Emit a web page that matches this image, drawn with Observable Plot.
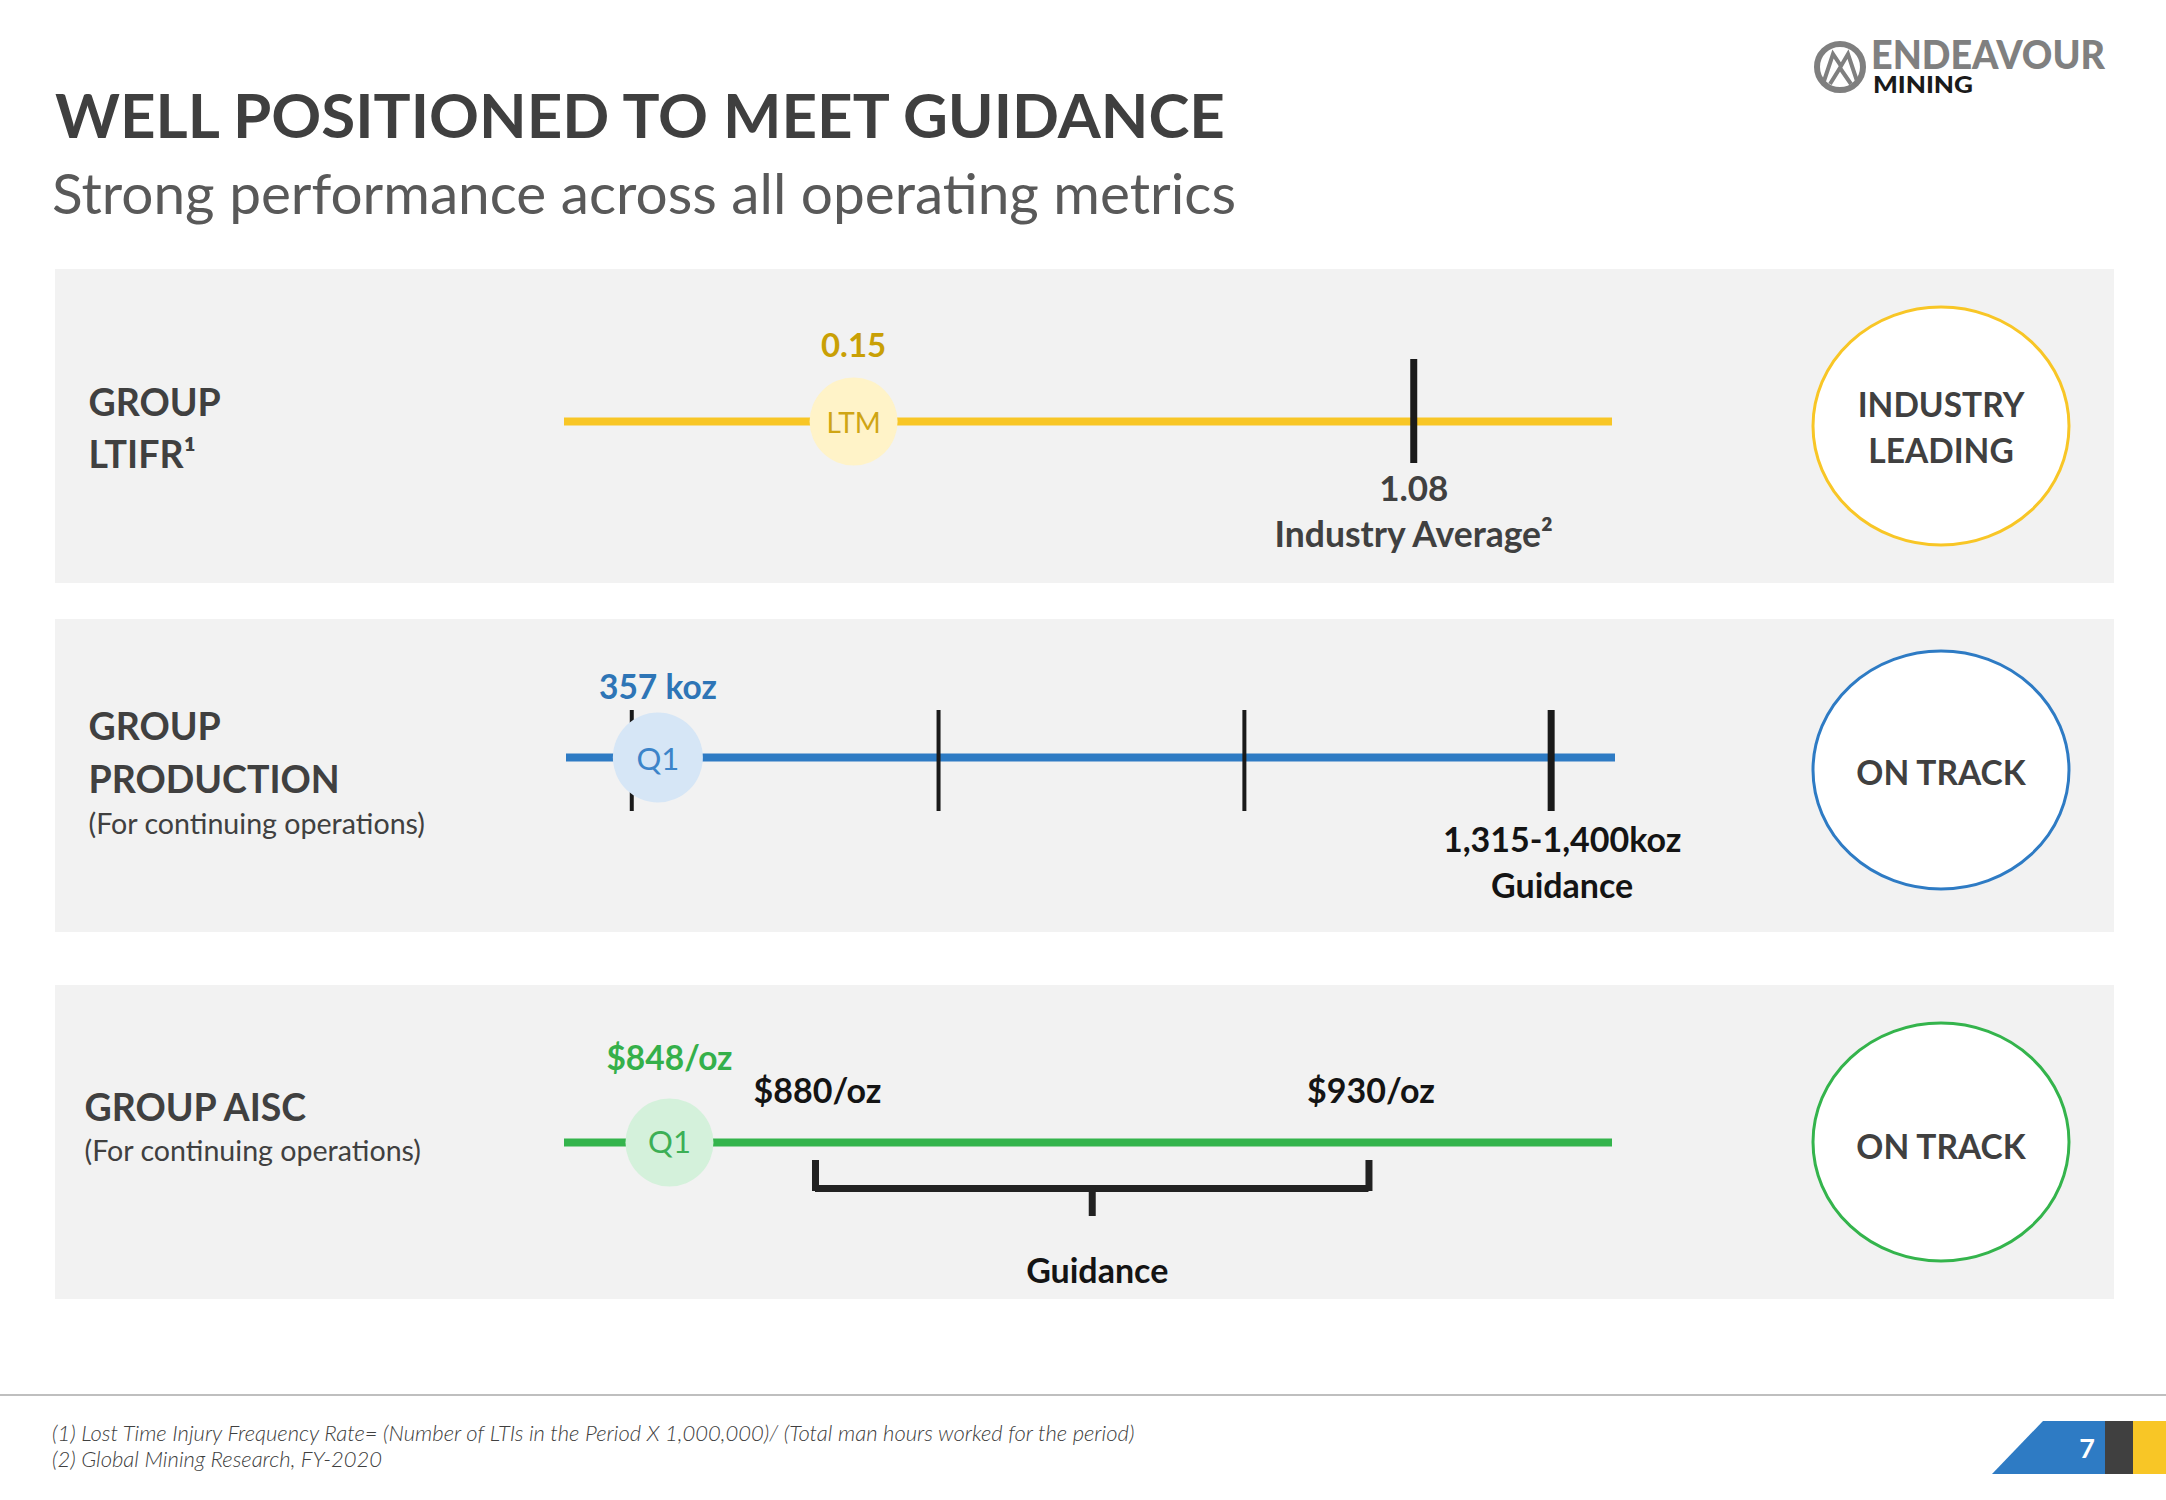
<!DOCTYPE html>
<html><head><meta charset="utf-8">
<script src="https://cdn.jsdelivr.net/npm/d3@7"></script>
<script src="https://cdn.jsdelivr.net/npm/@observablehq/plot@0.6"></script>
<style>
html,body{margin:0;padding:0;background:#fff;}
body{width:2166px;height:1500px;position:relative;overflow:hidden;font-family:Lato,"Open Sans",sans-serif;}
.panel{position:absolute;left:55px;width:2059px;background:#f2f2f2;}
.plot{position:absolute;left:55px;}
#overlay{position:absolute;left:0;top:0;pointer-events:none;}
</style></head><body>
<script>
// ---------------- data ----------------
const titleText = "WELL POSITIONED TO MEET GUIDANCE";
const subtitleText = "Strong performance across all operating metrics";
const footnotes = [
  "(1) Lost Time Injury Frequency Rate= (Number of LTIs in the Period X 1,000,000)/ (Total man hours worked for the period)",
  "(2) Global Mining Research, FY-2020"
];
const pageNumber = "7";
const logoWords = ["ENDEAVOUR", "MINING"];

const panelLabels = [["GROUP", "LTIFR¹"], ["GROUP", "PRODUCTION"], ["GROUP AISC"]];
const panelNotes = [null, "(For continuing operations)", "(For continuing operations)"];
const statusText = [["INDUSTRY", "LEADING"], ["ON TRACK"], ["ON TRACK"]];

// LTIFR
const ltifrActual = [{period: "LTM", value: 0.15, label: "0.15"}];
const ltifrBenchmark = [{value: 1.08, label: "1.08", note: "Industry Average²"}];
const ltifrAxis = [-0.33, 1.41];

// Production (koz)
const productionActual = [{period: "Q1", value: 357, label: "357 koz"}];
const productionMilestones = [329, 658, 986];
const productionGuidance = [{value: 1315, label: "1,315-1,400koz", note: "Guidance"}];
const productionAxis = [259, 1384];

// AISC ($/oz)
const aiscActual = [{period: "Q1", value: 848, label: "$848/oz"}];
const aiscGuidance = [{value: 880, label: "$880/oz"}, {value: 930, label: "$930/oz"}];
const aiscGuidanceNote = "Guidance";
const aiscAxis = [825, 880, 952];

// ---------------- layout / style ----------------
const FONT = "Lato, 'Open Sans', sans-serif";
const W = 2059;
const panelTops = [269, 619, 985];
const panelHeights = [314, 313, 314];
const LINE_RANGE = [509, 1557];
const DARK = "#404040", INK = "#141414";
const YELLOW = "#F8C626", YELLOW_TEXT = "#C9A005", YELLOW_FILL = "#FFF3C8", YELLOW_LBL = "#CFA514";
const BLUE = "#2E7BC4", BLUE_TEXT = "#2E75B6", BLUE_FILL = "#D6E6F6", BLUE_LBL = "#3C84C9";
const GREEN = "#34B44C", GREEN_TEXT = "#35B04A", GREEN_FILL = "#D4F1DB", GREEN_LBL = "#3CAF55";

const zero = () => 0;

function leftLabels(lines, note, x, dys, noteDy) {
  const marks = lines.map((t, i) => Plot.text([t], {text: d => d, frameAnchor: "left", textAnchor: "start", lineAnchor: "bottom",
    dx: x, dy: dys[i], fontSize: 37.5, fontWeight: 700, fill: DARK}));
  if (note) marks.push(Plot.text([note], {text: d => d, frameAnchor: "left", textAnchor: "start", lineAnchor: "bottom",
    dx: x, dy: noteDy, fontSize: 28.6, fill: DARK}));
  return marks;
}

function makePlot(h, mb, x, marks) {
  return Plot.plot({
    width: W, height: h, marginTop: 0, marginLeft: 0, marginRight: 0, marginBottom: mb,
    x: {...x, axis: null}, y: {domain: [-1, 1], axis: null},
    style: {fontFamily: FONT, background: "transparent", overflow: "visible"},
    marks
  });
}

// panel 1: LTIFR (center 152)
const p1 = makePlot(314, 10, {domain: ltifrAxis, range: LINE_RANGE}, [
  Plot.ruleY([ltifrAxis], {y: zero, x1: d => d[0], x2: d => d[1], stroke: YELLOW, strokeWidth: 8}),
  Plot.ruleX(ltifrBenchmark, {x: "value", stroke: "#1a1a1a", strokeWidth: 7, insetTop: 90, insetBottom: 110}),
  Plot.dot(ltifrActual, {x: "value", y: zero, r: 44, fill: YELLOW_FILL}),
  Plot.text(ltifrActual, {x: "value", y: zero, text: "period", fill: YELLOW_LBL, fontSize: 28, lineAnchor: "bottom", dy: 11}),
  Plot.text(ltifrActual, {x: "value", y: zero, text: "label", fill: YELLOW_TEXT, fontSize: 33, fontWeight: 700, lineAnchor: "bottom", dy: -65}),
  Plot.text(ltifrBenchmark, {x: "value", y: zero, text: "label", fill: DARK, fontSize: 35, fontWeight: 700, lineAnchor: "bottom", dy: 79}),
  Plot.text(ltifrBenchmark, {x: "value", y: zero, text: "note", fill: DARK, fontSize: 35.5, fontWeight: 700, lineAnchor: "bottom", dy: 125}),
  ...leftLabels(panelLabels[0], panelNotes[0], 33, [-6, 46])
]);

// panel 2: Production (center 138)
const p2 = makePlot(313, 37, {domain: productionAxis, range: [511, 1560]}, [
  Plot.ruleY([productionAxis], {y: zero, x1: d => d[0], x2: d => d[1], stroke: BLUE, strokeWidth: 8}),
  Plot.ruleX(productionMilestones, {x: d => d, stroke: "#1a1a1a", strokeWidth: 4, insetTop: 91, insetBottom: 84}),
  Plot.ruleX(productionGuidance, {x: "value", stroke: "#1a1a1a", strokeWidth: 7, insetTop: 91, insetBottom: 84}),
  Plot.dot(productionActual, {x: "value", y: zero, r: 45, fill: BLUE_FILL}),
  Plot.text(productionActual, {x: "value", y: zero, text: "period", fill: BLUE_LBL, fontSize: 31, lineAnchor: "bottom", dy: 12}),
  Plot.text(productionActual, {x: "value", y: zero, text: "label", fill: BLUE_TEXT, fontSize: 33.5, fontWeight: 700, lineAnchor: "bottom", dy: -59}),
  Plot.text(productionGuidance, {x: "value", y: zero, text: "label", fill: INK, fontSize: 34, fontWeight: 700, lineAnchor: "bottom", dy: 94, dx: 11}),
  Plot.text(productionGuidance, {x: "value", y: zero, text: "note", fill: INK, fontSize: 34, fontWeight: 700, lineAnchor: "bottom", dy: 140, dx: 11}),
  ...leftLabels(panelLabels[1], panelNotes[1], 33, [-18, 35], 76)
]);

// panel 3: AISC (center 157) — schematic axis: piecewise-linear transform of $/oz
const aiscT = d3.scaleLinear().domain(aiscAxis).range([0, 0.2395, 1]);
const aiscMid = [(aiscGuidance[0].value + aiscGuidance[1].value) / 2];
const p3 = makePlot(314, 0, {domain: [0, 1], range: LINE_RANGE, transform: aiscT}, [
  Plot.ruleY([[aiscAxis[0], aiscAxis[2]]], {y: zero, x1: d => d[0], x2: d => d[1], stroke: GREEN, strokeWidth: 8}),
  Plot.ruleX(aiscGuidance, {x: "value", stroke: "#222", strokeWidth: 7, insetTop: 175, insetBottom: 108}),
  Plot.ruleY([aiscGuidance], {y: zero, x1: d => d[0].value, x2: d => d[1].value, stroke: "#222", strokeWidth: 7, dy: 46}),
  Plot.ruleX(aiscMid, {x: d => d, stroke: "#222", strokeWidth: 7, insetTop: 203, insetBottom: 83}),
  Plot.dot(aiscActual, {x: "value", y: zero, r: 44, fill: GREEN_FILL}),
  Plot.text(aiscActual, {x: "value", y: zero, text: "period", fill: GREEN_LBL, fontSize: 31, lineAnchor: "bottom", dy: 10}),
  Plot.text(aiscActual, {x: "value", y: zero, text: "label", fill: GREEN_TEXT, fontSize: 33.5, fontWeight: 700, lineAnchor: "bottom", dy: -73}),
  Plot.text(aiscGuidance, {x: "value", y: zero, text: "label", fill: INK, fontSize: 34, fontWeight: 700, lineAnchor: "bottom", dy: -40, dx: 2}),
  Plot.text(aiscMid, {x: d => d, y: zero, text: () => aiscGuidanceNote, fill: INK, fontSize: 34, fontWeight: 700, lineAnchor: "bottom", dy: 140, dx: 5}),
  ...leftLabels(panelLabels[2], panelNotes[2], 29, [-22], 18)
]);

[p1, p2, p3].forEach((p, i) => {
  const bg = document.createElement("div");
  bg.className = "panel";
  bg.style.top = panelTops[i] + "px";
  bg.style.height = panelHeights[i] + "px";
  document.body.appendChild(bg);
  const holder = document.createElement("div");
  holder.className = "plot";
  holder.style.top = panelTops[i] + "px";
  holder.appendChild(p);
  document.body.appendChild(holder);
});

// ---------------- overlay: title, logo, status circles, footer ----------------
const NS = "http://www.w3.org/2000/svg";
const ov = document.createElementNS(NS, "svg");
ov.setAttribute("id", "overlay");
ov.setAttribute("width", 2166); ov.setAttribute("height", 1500);
document.body.appendChild(ov);
function el(tag, attrs, text, parent) {
  const e = document.createElementNS(NS, tag);
  for (const k in attrs) e.setAttribute(k, attrs[k]);
  if (text != null) e.textContent = text;
  (parent || ov).appendChild(e);
  return e;
}
function fit(t, target) {
  const len = t.getComputedTextLength();
  const fs = parseFloat(t.getAttribute("font-size"));
  if (len > 0) t.setAttribute("font-size", (fs * target / len).toFixed(2));
}

const tTitle = el("text", {x: 55, y: 138, "font-family": FONT, "font-weight": 700, "font-size": 66, fill: "#3f3f3f"}, titleText);
fit(tTitle, 1170);
const tSub = el("text", {x: 52, y: 214, "font-family": FONT, "font-size": 58, fill: "#595959"}, subtitleText);
fit(tSub, 1184);

// logo
el("circle", {cx: 1840, cy: 67, r: 23, fill: "none", stroke: "#7f7f7f", "stroke-width": 6});
el("path", {d: "M1823,84 L1833,54 L1841,66 L1848,54 L1858,84", fill: "none", stroke: "#7f7f7f", "stroke-width": 4, "stroke-linejoin": "miter"});
el("path", {d: "M1830,84 L1840,68 L1851,84", fill: "none", stroke: "#7f7f7f", "stroke-width": 4});
const logoText = el("text", {"font-family": FONT, "font-weight": 900});
el("tspan", {x: 1871, y: 69, "font-size": 39, fill: "#808080", textLength: 234, lengthAdjust: "spacingAndGlyphs"}, logoWords[0], logoText);
el("tspan", {x: 1873, y: 93, "font-size": 23, fill: "#1a1a1a", textLength: 100, lengthAdjust: "spacingAndGlyphs"}, logoWords[1], logoText);

// status circles
const statusColors = [YELLOW, BLUE, GREEN];
const statusCenters = [426, 770, 1142];
const statusBaselines = [[417, 463], [785], [1159]];
statusText.forEach((lines, i) => {
  el("ellipse", {cx: 1941, cy: statusCenters[i], rx: 128, ry: 119, fill: "#fff", stroke: statusColors[i], "stroke-width": 3});
  lines.forEach((s, j) => el("text", {x: 1941, y: statusBaselines[i][j], "text-anchor": "middle", "font-family": FONT, "font-weight": 700, "font-size": 33.5, fill: DARK}, s));
});

// footer
el("line", {x1: 0, x2: 2166, y1: 1395, y2: 1395, stroke: "#bfbfbf", "stroke-width": 2});
const f1 = el("text", {x: 52, y: 1441, "font-family": FONT, "font-style": "italic", "font-weight": 300, "font-size": 19, fill: DARK}, footnotes[0]);
fit(f1, 1083);
el("text", {x: 52, y: 1467, "font-family": FONT, "font-style": "italic", "font-weight": 300, "font-size": f1.getAttribute("font-size"), fill: DARK}, footnotes[1]);

// page badge
el("polygon", {points: "2043,1421 2105,1421 2105,1474 1992,1474", fill: "#2E7BC4"});
el("rect", {x: 2105, y: 1421, width: 28, height: 53, fill: "#404040"});
el("rect", {x: 2133, y: 1421, width: 33, height: 53, fill: "#F8C626"});
el("text", {x: 2087, y: 1458, "text-anchor": "middle", "font-family": FONT, "font-weight": 700, "font-size": 27, fill: "#fff"}, pageNumber);
</script>
</body></html>
